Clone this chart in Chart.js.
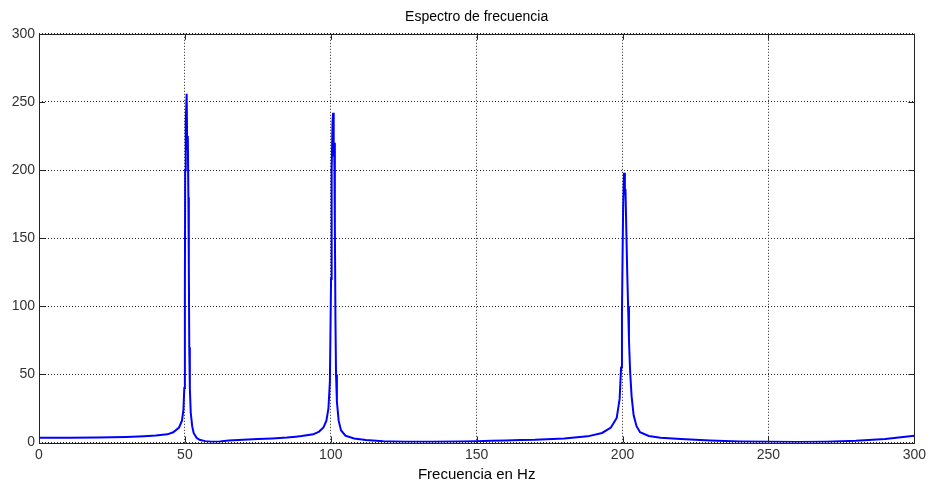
<!DOCTYPE html>
<html>
<head>
<meta charset="utf-8">
<script src="https://cdn.jsdelivr.net/npm/chart.js@4"></script>
<style>
  body { margin: 0; background: #fff; }
  canvas { display: block; }
</style>
</head>
<body>
<canvas id="espectro" width="930" height="488"></canvas>
<script>
// frecuencias (Hz) y magnitudes
const frecuencias = [
  0, 10, 20, 30, 36, 40, 44, 46, 48, 49, 49.5, 49.8, 50.0, 50.1, 50.3, 50.6, 50.8, 51.0, 51.2, 51.35, 51.5, 51.7, 52.0, 52.5, 53, 54, 55, 57, 59, 62, 65,
  70, 75, 80, 85, 88, 90, 94, 96, 97.5, 98.5, 99.2, 99.7, 100.1, 100.3, 100.6, 100.8, 101.0, 101.2, 101.4, 101.6, 101.8, 102.1, 102.7, 103.5, 105, 108, 112, 118, 125, 135, 145,
  150, 155, 160, 165, 170, 180, 188, 193, 196, 198, 199, 199.5, 199.8, 200.0, 200.2, 200.5, 200.8, 201.0, 201.3, 201.6, 201.9, 202.2, 202.6, 203.1, 203.8, 204.8, 206, 209, 213,
  220, 230, 240, 250, 260, 270, 280, 290, 300
];
const magnitudes = [
  3.4, 3.4, 3.6, 4.1, 4.6, 5.1, 6, 7.5, 11, 16, 24, 40, 110, 200, 235, 256, 215, 225, 180, 130, 70, 40, 22, 12, 7, 3.5, 2, 1, 0.5, 0.8, 1.5,
  2, 2.5, 3, 3.6, 4.3, 4.8, 6, 8, 11, 16, 25, 45, 120, 200, 235, 242, 210, 220, 160, 90, 50, 30, 16, 9, 5, 3, 1.8, 1, 0.6, 0.5, 0.8,
  1, 1.2, 1.5, 1.8, 2, 3, 4.5, 7, 11, 18, 32, 55, 95, 135, 172, 198, 182, 186, 155, 125, 100, 75, 52, 34, 20, 12, 7.5, 4.8, 3.5,
  2.5, 1.5, 0.8, 0.5, 0.4, 0.6, 1.2, 2.5, 5
];
const ticksEje = [0, 50, 100, 150, 200, 250, 300];

const fuente = { family: '"Liberation Sans", Arial, sans-serif', size: 14 };

// marcas de eje hacia dentro en los cuatro lados (estilo MATLAB)
const marcasInternas = {
  id: 'marcasInternas',
  afterDraw(chart) {
    const { ctx, chartArea: a, scales } = chart;
    ctx.save();
    ctx.strokeStyle = '#222';
    ctx.lineWidth = 1;
    ctx.beginPath();
    ticksEje.forEach(v => {
      const x = Math.round(scales.x.getPixelForValue(v)) + 0.5;
      ctx.moveTo(x, a.bottom); ctx.lineTo(x, a.bottom - 6);
      ctx.moveTo(x, a.top); ctx.lineTo(x, a.top + 6);
      const y = Math.round(scales.y.getPixelForValue(v)) + 0.5;
      ctx.moveTo(a.left, y); ctx.lineTo(a.left + 6, y);
      ctx.moveTo(a.right, y); ctx.lineTo(a.right - 6, y);
    });
    ctx.stroke();
    ctx.strokeRect(Math.round(a.left) + 0.5, Math.round(a.top) + 0.5,
      Math.round(a.right - a.left), Math.round(a.bottom - a.top));
    ctx.restore();
  }
};

new Chart(document.getElementById('espectro'), {
  type: 'line',
  data: {
    datasets: [{
      data: frecuencias.map((f, i) => ({ x: f, y: magnitudes[i] })),
      borderColor: '#0000ff',
      borderWidth: 2,
      pointRadius: 0,
      tension: 0,
      fill: false
    }]
  },
  options: {
    responsive: false,
    animation: false,
    layout: { padding: { top: 0, right: 14, left: 0, bottom: 0 } },
    plugins: {
      legend: { display: false },
      tooltip: { enabled: false },
      title: {
        display: true,
        text: 'Espectro de frecuencia',
        fullSize: false,
        color: '#000',
        font: { family: fuente.family, size: 14, weight: 'normal' },
        padding: { top: 9, bottom: 8 }
      }
    },
    scales: {
      x: {
        type: 'linear',
        min: 0, max: 300,
        afterBuildTicks: s => { s.ticks = ticksEje.map(v => ({ value: v })); },
        afterFit: s => { s.height = 45.5; },
        ticks: { color: '#333', font: fuente, padding: 4, maxRotation: 0 },
        grid: { color: '#222', drawTicks: false },
        border: { display: false, dash: [1, 2] },
        title: {
          display: true,
          text: 'Frecuencia en Hz',
          color: '#000',
          font: { family: fuente.family, size: 15 },
          padding: { top: 1 }
        }
      },
      y: {
        min: 0, max: 300,
        afterBuildTicks: s => { s.ticks = ticksEje.map(v => ({ value: v })); },
        afterFit: s => { s.width = 39; },
        ticks: { color: '#333', font: fuente, padding: 4 },
        grid: { color: '#222', drawTicks: false },
        border: { display: false, dash: [1, 2] }
      }
    }
  },
  plugins: [marcasInternas]
});
</script>
</body>
</html>
